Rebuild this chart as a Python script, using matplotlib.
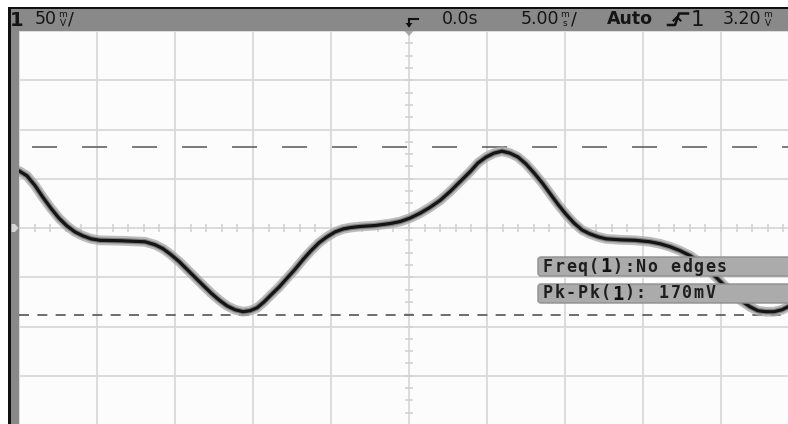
import numpy as np
import matplotlib
matplotlib.use("Agg")
import matplotlib.pyplot as plt
from matplotlib.patches import Rectangle, FancyBboxPatch, Polygon

plt.rcParams["lines.scale_dashes"] = False
plt.rcParams["font.family"] = ["DejaVu Sans"]

W, H = 788, 424

# ---- acquisition settings ----
volts_per_div = 50      # mV / div
time_per_div = 5.00     # ms / div
n_hdiv, n_vdiv = 10, 8
trigger_level = "3.20"
delay_label = "0.0s"

# ---- captured waveform: time (ms) vs amplitude (mV, screen centre = 0) ----
time_ms = [-25.0, -24.49, -23.97, -23.46, -22.95, -22.44, -21.92, -21.41, -20.9,
           -20.38, -19.81, -18.4, -16.92, -16.28, -15.77, -15.26, -14.74, -14.23,
           -13.72, -13.21, -12.69, -12.18, -11.67, -11.15, -10.64, -10.19, -9.74,
           -9.29, -8.85, -8.33, -7.82, -7.31, -6.79, -6.28, -5.77, -5.26, -4.74,
           -4.23, -3.72, -3.14, -2.18, -1.22, -0.58, 0.06, 0.71, 1.35, 1.99,
           2.63, 3.27, 3.91, 4.42, 4.94, 5.45, 5.96, 6.47, 6.99, 7.5, 8.01,
           8.53, 9.04, 9.55, 10.06, 10.58, 11.09, 11.6, 12.12, 12.63, 13.53,
           14.49, 15.45, 16.09, 16.73, 17.37, 18.01, 18.65, 19.29, 19.94, 20.58,
           21.22, 21.86, 22.37, 22.88, 23.4, 23.91, 24.42, 25.0]
volts_mv = [58, 53, 43, 31, 20, 10, 2, -4, -8,
            -11, -12.5, -13, -14, -17, -21, -27, -34, -42,
            -50, -58, -66, -73, -79, -83, -85, -84, -81,
            -75, -68, -60, -51, -42, -32, -23, -15, -9, -4,
            -1, 0.5, 1.5, 2.5, 4.5, 6.5, 10, 15, 21, 28,
            37, 47, 57, 66, 72, 76, 78, 76, 72, 65, 56,
            46, 35, 24, 14, 5, -2, -6, -9, -11, -12,
            -12.5, -14, -16, -19, -23, -28, -35, -44, -54, -64,
            -73, -80, -84, -85, -85, -83, -79, -75]

# measurement cursors
v_top_mv = 82
v_base_mv = -88
pk_pk_mv = v_top_mv - v_base_mv

meas_lines = ["Freq(1):No edges", f"Pk-Pk(1): {pk_pk_mv}mV"]

fig = plt.figure(figsize=(W / 100, H / 100), dpi=100, facecolor="white")

# ---- graticule / trace axes ----
x0, x1, y_top, y_bot = 19, 799, 31, 425
ax = fig.add_axes([x0 / W, (H - y_bot) / H, (x1 - x0) / W, (y_bot - y_top) / H])
ax.set_zorder(1)
xr = time_per_div * n_hdiv / 2
yr = volts_per_div * n_vdiv / 2
ax.set_xlim(-xr, xr)
ax.set_ylim(-yr, yr)
ax.set_facecolor("#fcfcfc")
for s in ax.spines.values():
    s.set_visible(False)
ax.set_xticks(np.arange(-xr, xr + 0.01, time_per_div))
ax.set_yticks(np.arange(-yr, yr + 0.01, volts_per_div))
ax.tick_params(length=0, labelbottom=False, labelleft=False)
ax.grid(True, color="#d9d9d9", lw=1.3)
ax.set_axisbelow(True)

# minor ticks along the centre axes
tick_c = "#d2d2d2"
hx = np.arange(-xr, xr + 0.01, time_per_div / 5)
ax.vlines(hx, -4, 4, color=tick_c, lw=1.2, zorder=1)
vy = np.arange(-yr, yr + 0.01, volts_per_div / 4)
ax.hlines(vy, -0.26, 0.26, color=tick_c, lw=1.2, zorder=1)

# measurement level markers
ax.axhline(v_top_mv, color="#555555", lw=1.1, ls=(26.6, (18, 18)), zorder=2)
ax.axhline(v_base_mv, color="#555555", lw=1.2, ls=(0, (7.2, 6)), zorder=2)

# trace with persistence halo
kw = dict(solid_capstyle="round", solid_joinstyle="round")
ax.plot(time_ms, volts_mv, color="#ababab", lw=7.0, alpha=0.8, zorder=3, **kw)
ax.plot(time_ms, volts_mv, color="#6a6a6a", lw=4.0, alpha=0.7, zorder=4, **kw)
ax.plot(time_ms, volts_mv, color="#141414", lw=2.3, zorder=5, **kw)

# ---- display chrome (pixel coordinates) ----
ov = fig.add_axes([0, 0, 1, 1])
ov.set_zorder(2)
ov.set_xlim(0, W)
ov.set_ylim(H, 0)
ov.axis("off")
ov.patch.set_alpha(0)

bar_c = "#898989"
ov.add_patch(Rectangle((8, 7), W - 8, 1.6, color="#111111", lw=0))
ov.add_patch(Rectangle((8, 8.5), W - 8, 22.5, color=bar_c, lw=0))
ov.add_patch(Rectangle((8, 7), 3.2, H - 7, color="#111111", lw=0))
ov.add_patch(Rectangle((11.2, 8.5), 7.8, H - 8.5, color=bar_c, lw=0))

# ground reference marker
ov.add_patch(Polygon([(11.5, 224), (15, 224), (18.5, 228), (15, 232), (11.5, 232)],
                     closed=True, color="#d6d6d6", lw=0))

txt_c = "#151515"
fs = 12.5
ufs = 6.5


def stacked_unit(x, top, bottom):
    ov.text(x, 17, top, fontsize=ufs, color=txt_c, va="baseline", ha="center")
    ov.text(x, 26, bottom, fontsize=ufs, color=txt_c, va="baseline", ha="center")


ov.text(9.5, 25.5, "1", fontsize=14, fontweight="bold", color=txt_c, va="baseline")
ov.text(57, 24.5, "50", fontsize=fs, color=txt_c, va="baseline", ha="right")
stacked_unit(62.5, "m", "V")
ov.text(68, 24.5, "/", fontsize=fs, color=txt_c, va="baseline")

# trigger position marker
ov.plot([409, 418], [18.5, 18.5], color="#111111", lw=1.5)
ov.plot([409, 409], [18.5, 26], color="#111111", lw=1.5)
ov.add_patch(Polygon([(405.5, 23), (412.5, 23), (409, 27.5)], closed=True,
                     color="#111111", lw=0))
ov.add_patch(Polygon([(404.5, 31), (413.5, 31), (409, 36)], closed=True,
                     color="#a5a5a5", lw=0))

ov.text(442, 24.5, delay_label, fontsize=fs, color=txt_c, va="baseline")
ov.text(559, 24.5, "5.00", fontsize=fs, color=txt_c, va="baseline", ha="right")
stacked_unit(565, "m", "s")
ov.text(571, 24.5, "/", fontsize=fs, color=txt_c, va="baseline")
ov.text(607, 24.5, "Auto", fontsize=fs, fontweight="bold", color=txt_c, va="baseline")

# rising-edge trigger symbol
ov.plot([668, 675, 679, 688], [25, 25, 13.5, 13.5], color="#111111", lw=1.8)
ov.plot([673.5, 677, 680.5], [20.5, 17, 20.5], color="#111111", lw=1.5)
ov.text(691, 26.5, "1", fontsize=15.5, color=txt_c, va="baseline")
ov.text(761, 24.5, trigger_level, fontsize=fs, color=txt_c, va="baseline", ha="right")
stacked_unit(767.5, "m", "V")

# measurement readout boxes
box_tops = [257, 284]
box_h = 19
pitch = 11.6
mono = ["DejaVu Sans Mono"]
for top, line in zip(box_tops, meas_lines):
    ov.add_patch(FancyBboxPatch((538, top), 280, box_h,
                                boxstyle="round,pad=0,rounding_size=3",
                                fc="#ababab", ec="#8e8e8e", lw=1.0))
    cx = 542 + pitch / 2
    base = top + box_h / 2
    for i, ch in enumerate(line):
        if ch == "1" and i > 0 and line[i - 1] == "(":
            ov.text(cx + i * pitch, base + 0.5, ch, fontsize=13.5, fontweight="bold",
                    family=mono, color="#111111", ha="center", va="center")
        else:
            ov.text(cx + i * pitch, base, ch, fontsize=12, fontweight="bold",
                    family=mono, color="#1e1e1e", ha="center", va="center")

fig.savefig("out.png", dpi=100, facecolor="white")
